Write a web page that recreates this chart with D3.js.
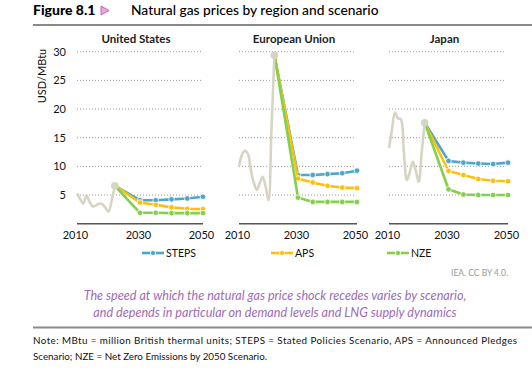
<!DOCTYPE html>
<html>
<head>
<meta charset="utf-8">
<script src="https://cdn.jsdelivr.net/npm/d3@7"></script>
<style>
  body { margin: 0; background: #fff; }
  svg { display: block; font-family: Lato, "Open Sans", sans-serif; }
</style>
</head>
<body>
<svg id="chart" width="532" height="376"></svg>
<script>
// history, annual
var histYears = [2010, 2011, 2012, 2013, 2014, 2015, 2016, 2017, 2018, 2019, 2020, 2021, 2022];
var usHistory = [5.3, 4.3, 3.5, 4.9, 3.8, 3.0, 3.2, 3.5, 3.4, 2.8, 2.1, 4.0, 6.6];
var euHistory = [10.0, 12.0, 12.7, 12.2, 9.4, 7.2, 5.9, 7.0, 8.2, 6.5, 4.1, 16.5, 29.4];
var jpHistory = [13.2, 16.4, 19.4, 18.4, 18.2, 12.5, 7.6, 9.0, 10.8, 9.2, 7.3, 12.5, 17.6];

// outlook, starting from 2022
var scenYears = [2022, 2030, 2035, 2040, 2045, 2050];
var usSteps = [6.6, 4.1, 4.1, 4.25, 4.4, 4.7];
var usAps   = [6.6, 3.7, 3.3, 2.85, 2.6, 2.55];
var usNze   = [6.6, 1.9, 1.9, 1.85, 1.85, 1.85];
var euSteps = [29.4, 8.5, 8.5, 8.65, 8.8, 9.25];
var euAps   = [29.4, 7.9, 7.2, 6.6, 6.3, 6.2];
var euNze   = [29.4, 4.55, 3.8, 3.8, 3.8, 3.8];
var jpSteps = [17.6, 10.95, 10.65, 10.5, 10.4, 10.65];
var jpAps   = [17.6, 9.2, 8.5, 7.8, 7.5, 7.4];
var jpNze   = [17.6, 6.0, 5.1, 5.0, 5.0, 5.0];

var regions = ["United States", "European Union", "Japan"];
var scenarios = ["STEPS", "APS", "NZE"];
var xTicks = [2010, 2030, 2050];
var yTicks = [5, 10, 15, 20, 25, 30];

var colors = { STEPS: "#4ea6c9", APS: "#fdc010", NZE: "#84cf4b", hist: "#d8d4c3" };

var panels = [
    { name: regions[0], hist: usHistory, scen: [usSteps, usAps, usNze], range: [77, 203] },
    { name: regions[1], hist: euHistory, scen: [euSteps, euAps, euNze], range: [239, 357] },
    { name: regions[2], hist: jpHistory, scen: [jpSteps, jpAps, jpNze], range: [389, 508] }
];

var svg = d3.select("#chart");

// header
svg.append("text")
    .attr("x", 33).attr("y", 15)
    .attr("font-size", 14).attr("font-weight", 900)
    .text("Figure 8.1");
svg.append("path")
    .attr("d", "M101,6 L109,10.5 L101,15 Z")
    .attr("fill", "#e9a9d6").attr("stroke", "#c46aa9").attr("stroke-width", 1);
svg.append("text")
    .attr("x", 131).attr("y", 15)
    .attr("font-size", 13.8).attr("font-weight", 500)
    .text("Natural gas prices by region and scenario");
svg.append("line")
    .attr("x1", 33).attr("x2", 532).attr("y1", 25).attr("y2", 25)
    .attr("stroke", "#8a8a8a").attr("stroke-width", 2);

var y = d3.scaleLinear().domain([0, 30]).range([223.7, 51.7]);

// y axis, left panel only
svg.append("g")
    .attr("transform", "translate(69,0)")
    .call(d3.axisLeft(y).tickValues(yTicks).tickSize(0).tickPadding(3))
    .call(function(g) { g.select(".domain").remove(); })
    .selectAll("text")
    .attr("font-family", "Lato, sans-serif")
    .attr("font-size", 11)
    .attr("fill", "#111");

svg.append("text")
    .attr("transform", "translate(46,76) rotate(-90)")
    .attr("text-anchor", "middle")
    .attr("font-size", 11)
    .attr("fill", "#111")
    .text("USD/MBtu");

panels.forEach(function(p) {
    var x = d3.scaleLinear().domain([2010, 2050]).range(p.range);
    var g = svg.append("g");

    g.append("text")
        .attr("x", (p.range[0] + p.range[1]) / 2 - 4)
        .attr("y", 43)
        .attr("text-anchor", "middle")
        .attr("font-size", 11.5).attr("font-weight", 700)
        .attr("fill", "#222")
        .text(p.name);

    g.selectAll(".grid")
        .data(yTicks)
        .enter().append("line")
        .attr("x1", p.range[0]).attr("x2", p.range[1] - 2)
        .attr("y1", function(d) { return y(d); })
        .attr("y2", function(d) { return y(d); })
        .attr("stroke", "#9a9a9a")
        .attr("stroke-width", 1)
        .attr("stroke-dasharray", "1,2");

    g.append("g")
        .attr("transform", "translate(0," + y(0) + ")")
        .call(d3.axisBottom(x).tickValues(xTicks).tickFormat(d3.format("d")).tickSize(0).tickPadding(8))
        .call(function(a) { a.select(".domain").remove(); })
        .selectAll("text")
        .attr("font-family", "Lato, sans-serif")
        .attr("font-size", 11)
        .attr("fill", "#111")
        .attr("dx", -2);

    g.append("line")
        .attr("x1", x(2010)).attr("x2", x(2050))
        .attr("y1", y(0)).attr("y2", y(0))
        .attr("stroke", "#555").attr("stroke-width", 1.5);

    var line = d3.line()
        .x(function(d) { return x(d[0]); })
        .y(function(d) { return y(d[1]); });

    p.scen.forEach(function(vals, i) {
        var pts = scenYears.map(function(yr, j) { return [yr, vals[j]]; });
        var c = colors[scenarios[i]];
        g.append("path")
            .datum(pts)
            .attr("fill", "none")
            .attr("stroke", c)
            .attr("stroke-width", 2.6)
            .attr("stroke-linejoin", "round")
            .attr("d", line);
        g.selectAll(".m" + i)
            .data(pts.slice(1))
            .enter().append("circle")
            .attr("cx", function(d) { return x(d[0]); })
            .attr("cy", function(d) { return y(d[1]); })
            .attr("r", 2.8)
            .attr("fill", c)
            .attr("stroke", "#fff")
            .attr("stroke-width", 0.8);
    });

    var hist = histYears.map(function(yr, j) { return [yr, p.hist[j]]; });
    g.append("path")
        .datum(hist)
        .attr("fill", "none")
        .attr("stroke", colors.hist)
        .attr("stroke-width", 2.6)
        .attr("stroke-linejoin", "round")
        .attr("d", line.curve(d3.curveCatmullRom.alpha(0.5)));
    g.append("circle")
        .attr("cx", x(2022))
        .attr("cy", y(p.hist[p.hist.length - 1]))
        .attr("r", 3.8)
        .attr("fill", colors.hist);
});

// legend
var legendX = [142, 271, 387];
scenarios.forEach(function(s, i) {
    var lg = svg.append("g").attr("transform", "translate(" + legendX[i] + ",253)");
    lg.append("line")
        .attr("x1", 0).attr("x2", 22)
        .attr("stroke", colors[s]).attr("stroke-width", 2.6);
    lg.append("circle")
        .attr("cx", 11).attr("r", 2.6)
        .attr("fill", colors[s]).attr("stroke", "#fff").attr("stroke-width", 0.8);
    lg.append("text")
        .attr("x", 24).attr("y", 4)
        .attr("font-size", 10.5).attr("fill", "#111")
        .text(s);
});

svg.append("text")
    .attr("x", 508).attr("y", 275.5)
    .attr("text-anchor", "end")
    .attr("font-size", 8.5).attr("fill", "#999")
    .text("IEA. CC BY 4.0.");

svg.append("text")
    .attr("x", 275).attr("y", 300)
    .attr("text-anchor", "middle")
    .attr("font-size", 12.6).attr("font-style", "italic")
    .attr("fill", "#9d6cb5")
    .text("The speed at which the natural gas price shock recedes varies by scenario,");
svg.append("text")
    .attr("x", 275).attr("y", 317)
    .attr("text-anchor", "middle")
    .attr("font-size", 12.6).attr("font-style", "italic")
    .attr("fill", "#9d6cb5")
    .text("and depends in particular on demand levels and LNG supply dynamics");

svg.append("line")
    .attr("x1", 33).attr("x2", 532).attr("y1", 327.5).attr("y2", 327.5)
    .attr("stroke", "#8a8a8a").attr("stroke-width", 2);

svg.append("text")
    .attr("x", 33).attr("y", 344)
    .attr("font-size", 9.8).attr("fill", "#111")
    .attr("textLength", 484).attr("lengthAdjust", "spacing")
    .text("Note: MBtu = million British thermal units; STEPS = Stated Policies Scenario, APS = Announced Pledges");
svg.append("text")
    .attr("x", 33).attr("y", 360)
    .attr("font-size", 9.8).attr("fill", "#111")
    .text("Scenario; NZE = Net Zero Emissions by 2050 Scenario.");
</script>
</body>
</html>
